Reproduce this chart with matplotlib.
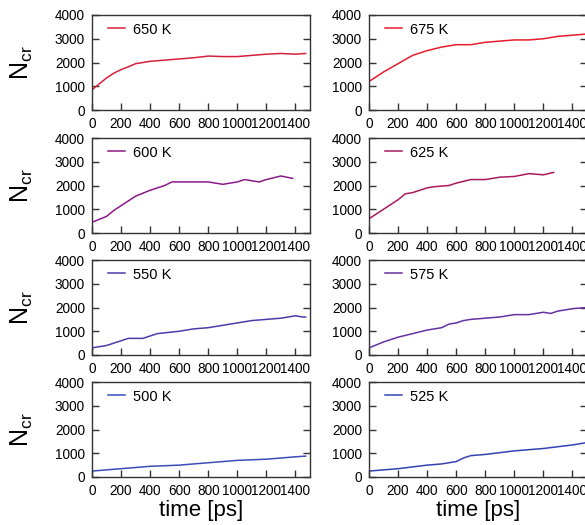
import matplotlib
matplotlib.use("Agg")
import matplotlib.pyplot as plt

plt.rcParams["font.family"] = ["Liberation Sans", "DejaVu Sans"]
plt.rcParams["mathtext.fontset"] = "custom"
plt.rcParams["mathtext.rm"] = "Liberation Sans"
plt.rcParams["mathtext.it"] = "Liberation Sans"

# time [ps] / N_cr readings for each temperature
t_650 = [0, 50, 100, 150, 200, 250, 300, 400, 500, 600, 700, 800, 900, 1000, 1100, 1200, 1300, 1400, 1470]
n_650 = [850, 1100, 1350, 1550, 1700, 1820, 1950, 2050, 2100, 2150, 2200, 2270, 2250, 2250, 2300, 2350, 2380, 2350, 2380]

t_675 = [0, 50, 100, 200, 300, 400, 500, 600, 700, 800, 900, 1000, 1100, 1200, 1300, 1400, 1500]
n_675 = [1200, 1400, 1600, 1950, 2300, 2500, 2650, 2750, 2750, 2850, 2900, 2950, 2950, 3000, 3100, 3150, 3200]

t_600 = [0, 100, 150, 200, 300, 400, 500, 550, 600, 700, 800, 900, 1000, 1050, 1150, 1200, 1300, 1380]
n_600 = [450, 700, 950, 1150, 1550, 1800, 2000, 2150, 2150, 2150, 2150, 2050, 2150, 2250, 2150, 2250, 2400, 2300]

t_625 = [0, 100, 200, 250, 300, 400, 450, 550, 600, 700, 800, 900, 1000, 1100, 1200, 1270]
n_625 = [600, 1000, 1400, 1650, 1700, 1900, 1950, 2000, 2100, 2250, 2250, 2350, 2380, 2500, 2450, 2550]

t_550 = [0, 100, 200, 250, 350, 400, 450, 600, 700, 800, 900, 1000, 1100, 1200, 1300, 1400, 1450, 1470]
n_550 = [300, 400, 600, 700, 700, 800, 900, 1000, 1100, 1150, 1250, 1350, 1450, 1500, 1550, 1650, 1600, 1600]

t_575 = [0, 100, 200, 300, 400, 450, 500, 550, 600, 650, 700, 800, 900, 1000, 1100, 1200, 1250, 1300, 1400, 1500]
n_575 = [300, 550, 750, 900, 1050, 1100, 1150, 1300, 1350, 1450, 1500, 1550, 1600, 1700, 1700, 1800, 1750, 1850, 1950, 2000]

t_500 = [0, 200, 400, 600, 800, 1000, 1200, 1400, 1470]
n_500 = [250, 350, 450, 500, 600, 700, 750, 850, 880]

t_525 = [0, 200, 400, 500, 600, 650, 700, 800, 1000, 1200, 1400, 1500]
n_525 = [250, 350, 500, 550, 650, 800, 900, 950, 1100, 1200, 1350, 1450]

panels = [
    ("650 K", t_650, n_650, "#d4203c"),
    ("675 K", t_675, n_675, "#e81c2c"),
    ("600 K", t_600, n_600, "#8a1a88"),
    ("625 K", t_625, n_625, "#a81a5c"),
    ("550 K", t_550, n_550, "#4c3caa"),
    ("575 K", t_575, n_575, "#6432a2"),
    ("500 K", t_500, n_500, "#3c4cb8"),
    ("525 K", t_525, n_525, "#3442b0"),
]

W, H = 585, 525
col_left = [92, 369]
ax_w = 218
row_top = [15, 138, 260, 382]
ax_h = 95

fig = plt.figure(figsize=(W / 100, H / 100), dpi=100, facecolor="white")

for i, (label, t, n, color) in enumerate(panels):
    r, c = divmod(i, 2)
    ax = fig.add_axes([col_left[c] / W, 1 - (row_top[r] + ax_h) / H, ax_w / W, ax_h / H])
    ax.plot(t, n, color=color, lw=1.1, label=label)
    ax.set_xlim(0, 1500)
    ax.set_ylim(0, 4000)
    ax.set_xticks(range(0, 1401, 200))
    ax.set_yticks(range(0, 4001, 1000))
    ax.tick_params(direction="in", length=5, width=1, labelsize=9.8, right=True,
                   color="#333333", pad=5)
    for s in ax.spines.values():
        s.set_color("#333333")
        s.set_linewidth(1)
    ax.legend(loc="upper left", bbox_to_anchor=(0.073, 0.92), frameon=False,
              fontsize=10.5, handlelength=1.2, handletextpad=0.55,
              borderaxespad=0, borderpad=0)
    if c == 0:
        ax.set_ylabel(r"$\mathregular{N_{cr}}$", fontsize=18, labelpad=14)
    if r == 3:
        ax.set_xlabel("time [ps]", fontsize=16, labelpad=1.5)

fig.savefig("out.png", dpi=100, facecolor="white")
